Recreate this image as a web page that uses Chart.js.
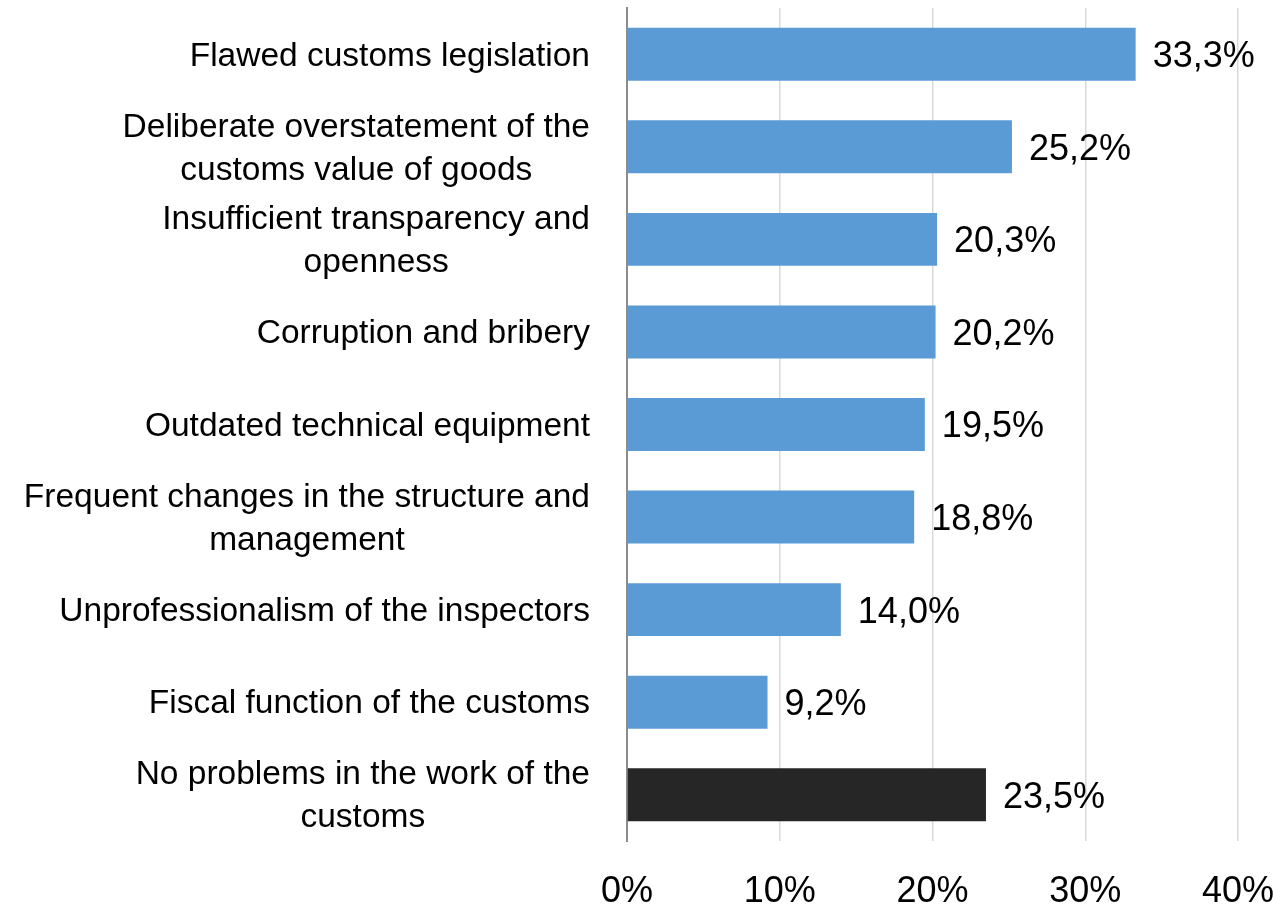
<!DOCTYPE html>
<html>
<head>
<meta charset="utf-8">
<script src="https://cdn.jsdelivr.net/npm/chart.js@4/dist/chart.umd.min.js"></script>
<style>
  html, body { margin: 0; padding: 0; background: #fff; }
  #wrap { width: 1273px; height: 904px; }
</style>
</head>
<body>
<div id="wrap"><canvas id="chart" width="1273" height="904"></canvas></div>
<script>
// Categories (each entry is a list of lines) and shares in percent
const categories = [
  ['Flawed customs legislation'],
  ['Deliberate overstatement of the', 'customs value of goods'],
  ['Insufficient transparency and', 'openness'],
  ['Corruption and bribery'],
  ['Outdated technical equipment'],
  ['Frequent changes in the structure and', 'management'],
  ['Unprofessionalism of the inspectors'],
  ['Fiscal function of the customs'],
  ['No problems in the work of the', 'customs']
];
const shares = [33.3, 25.2, 20.3, 20.2, 19.5, 18.8, 14.0, 9.2, 23.5];
const xTicks = [0, 10, 20, 30, 40];

const BLUE = '#5b9bd5';
const DARK = '#262626';
const FONT = '"Liberation Sans", Arial, sans-serif';
const NARROW = '"Liberation Sans Narrow", "Liberation Sans", Arial, sans-serif';

const fmt = v => v.toFixed(1).replace('.', ',') + '%';

// category labels: lines centred on each other, block right-aligned next to the axis
// percent labels under the x axis
const axisLabels = {
  id: 'axisLabels',
  afterDraw(chart) {
    const ctx = chart.ctx;
    const { x, y } = chart.scales;
    ctx.save();
    ctx.fillStyle = '#000';
    ctx.textAlign = 'center';
    ctx.textBaseline = 'middle';

    ctx.font = '33.5px ' + FONT;
    const lineH = 43;
    categories.forEach((lines, i) => {
      const cy = y.getPixelForValue(i) + 2;
      const w = Math.max(...lines.map(l => ctx.measureText(l).width));
      const cx = 590 - w / 2;
      const y0 = cy - (lines.length - 1) * lineH / 2;
      lines.forEach((l, k) => ctx.fillText(l, cx, y0 + k * lineH));
    });

    ctx.font = '36px ' + NARROW;
    xTicks.forEach(v => {
      ctx.fillText(v + '%', x.getPixelForValue(v), chart.chartArea.bottom + 51);
    });
    ctx.restore();
  }
};

// value labels at the end of each bar
const valueLabels = {
  id: 'valueLabels',
  afterDatasetsDraw(chart) {
    const ctx = chart.ctx;
    const meta = chart.getDatasetMeta(0);
    ctx.save();
    ctx.font = '36px ' + NARROW;
    ctx.fillStyle = '#000';
    ctx.textAlign = 'left';
    ctx.textBaseline = 'middle';
    meta.data.forEach((bar, i) => {
      ctx.fillText(fmt(shares[i]), bar.x + 17, bar.y + 3);
    });
    ctx.restore();
  }
};

new Chart(document.getElementById('chart'), {
  type: 'bar',
  data: {
    labels: categories.map(c => c.join(' ')),
    datasets: [{
      data: shares,
      backgroundColor: shares.map((v, i) => i === shares.length - 1 ? DARK : BLUE),
      borderWidth: 0,
      barPercentage: 1,
      categoryPercentage: 0.572
    }]
  },
  options: {
    indexAxis: 'y',
    responsive: false,
    animation: false,
    layout: { padding: { left: 627, right: 35, top: 8, bottom: 0 } },
    plugins: {
      legend: { display: false },
      tooltip: { enabled: false }
    },
    scales: {
      x: {
        min: xTicks[0],
        max: xTicks[xTicks.length - 1],
        afterBuildTicks(axis) { axis.ticks = xTicks.map(v => ({ value: v })); },
        grid: { color: '#d9d9d9', lineWidth: 1.5, drawTicks: false },
        border: { display: false },
        ticks: { display: false },
        afterFit(axis) {
          axis.height = 63;
          axis.paddingLeft = 0;
          axis.paddingRight = 0;
        }
      },
      y: {
        grid: { display: false },
        border: { display: true, color: '#8c8c8c', width: 2 },
        ticks: { display: false },
        afterFit(axis) { axis.width = 0; }
      }
    }
  },
  plugins: [axisLabels, valueLabels]
});
</script>
</body>
</html>
